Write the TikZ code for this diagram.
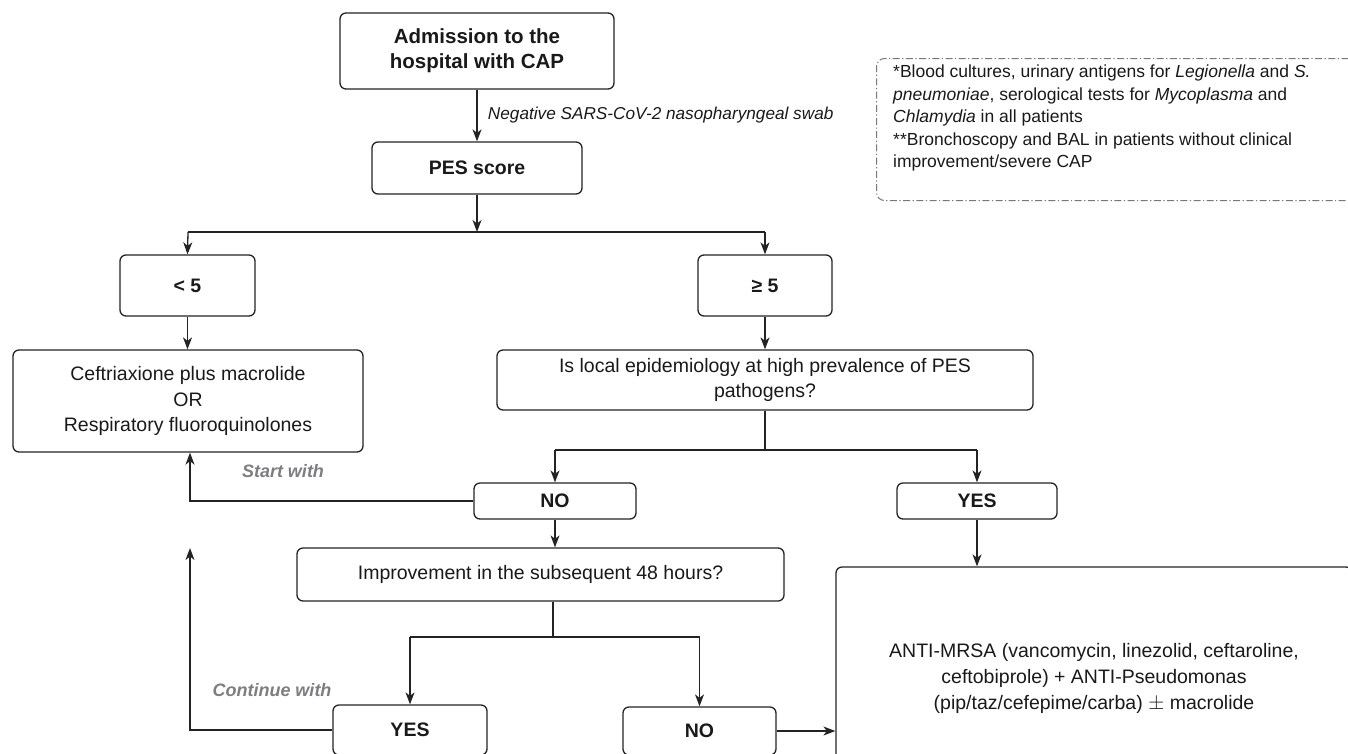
\documentclass[tikz,border=0pt]{standalone}
\usepackage{fontspec}
\setmainfont{Liberation Sans}
\usepackage{amssymb}
\usetikzlibrary{arrows.meta}
\definecolor{linec}{RGB}{35,35,35}
\definecolor{labgray}{RGB}{125,125,130}
\definecolor{notegray}{RGB}{120,120,120}
\begin{document}
\begin{tikzpicture}[x=1pt,y=-1pt,
  box/.style={draw=linec,line width=1.3pt,rounded corners=6pt,rectangle,inner sep=0pt,align=center,font=\fontsize{19.5}{25.5}\selectfont,text=black!90},
  bbox/.style={box,font=\fontsize{19.5}{25}\selectfont\bfseries},
  conn/.style={draw=linec,line width=1.3pt},
  arr/.style={conn,-{Stealth[length=12pt,width=9pt,inset=3.5pt]}},
  lab/.style={font=\fontsize{18}{20}\selectfont\bfseries\itshape,text=labgray}]
\useasboundingbox (0,0) rectangle (1348,753);
% nodes
\node[bbox,minimum width=274pt,minimum height=76pt,font=\fontsize{20.5}{25}\selectfont\bfseries] (adm) at (477,51) {Admission to the\\hospital with CAP};
\node[bbox,minimum width=210pt,minimum height=52pt] (pes) at (477,168) {PES score};
\node[bbox,minimum width=135pt,minimum height=61pt] (lt) at (187.5,285.5) {< 5};
\node[bbox,minimum width=134pt,minimum height=61pt] (ge) at (765,285.5) {≥ 5};
\node[box,minimum width=350pt,minimum height=102pt] (ceft) at (188,401) {Ceftriaxione plus macrolide\\OR\\Respiratory fluoroquinolones};
\node[box,minimum width=536pt,minimum height=60pt] (loc) at (765,380) {Is local epidemiology at high prevalence of PES\\pathogens?};
\node[bbox,minimum width=162pt,minimum height=36pt] (noa) at (555,501) {NO};
\node[bbox,minimum width=160pt,minimum height=36pt] (yesa) at (977,501) {YES};
\node[box,minimum width=487pt,minimum height=53pt] (imp) at (540.5,574.5) {Improvement in the subsequent 48 hours?};
\node[bbox,minimum width=154pt,minimum height=50pt] (yesb) at (410,730) {YES};
\node[bbox,minimum width=153pt,minimum height=48pt] (nob) at (699.5,731) {NO};
\node[box,minimum width=516pt,minimum height=223pt,font=\fontsize{19.5}{26}\selectfont] (anti) at (1094,678.5) {ANTI-MRSA (vancomycin, linezolid, ceftaroline,\\ceftobiprole) + ANTI-Pseudomonas\\(pip/taz/cefepime/carba) $\pm$ macrolide};
% note
\node[draw=notegray,line width=1pt,dash pattern=on 7pt off 2.5pt on 1.2pt off 2.5pt,rounded corners=8pt,minimum width=480pt,minimum height=142pt,anchor=north west,inner sep=0pt] (note) at (876,58) {};
\node[anchor=north west,align=left,font=\fontsize{17.5}{22.5}\selectfont,text=black!90,inner sep=0pt] (notetxt) at (893,65) {*Blood cultures, urinary antigens for \textit{Legionella} and \textit{S.}\\\textit{pneumoniae}, serological tests for \textit{Mycoplasma} and\\\textit{Chlamydia} in all patients\\**Bronchoscopy and BAL in patients without clinical\\improvement/severe CAP};
% coordinates
\coordinate (j1) at (477,232);
\coordinate (j1l) at (188,232);
\coordinate (j1r) at (765,232);
\coordinate (j2) at (765,450);
\coordinate (j2l) at (555,450);
\coordinate (j2r) at (977,450);
\coordinate (j3) at (553,637);
\coordinate (j3l) at (410,637);
\coordinate (j3r) at (699.5,637);
\coordinate (sw) at (190,501);
\coordinate (cw) at (190,730);
\coordinate (cwend) at (190,548);
% connectors
\draw[arr] (adm.south) -- (pes.north) node[midway,right=7pt,font=\fontsize{17.2}{20}\selectfont\itshape,text=black!90] {Negative SARS-CoV-2 nasopharyngeal swab};
\draw[arr] (pes.south) -- (j1);
\draw[conn] (j1l) -- (j1r);
\draw[arr] (j1l) -- (lt.north);
\draw[arr] (j1r) -- (ge.north);
\draw[arr] (lt.south) -- (lt.south |- ceft.north);
\draw[arr] (ge.south) -- (loc.north);
\draw[conn] (loc.south) -- (j2);
\draw[conn] (j2l) -- (j2r);
\draw[arr] (j2l) -- (noa.north);
\draw[arr] (j2r) -- (yesa.north);
\draw[arr] (noa.west) -- (sw) -- (sw |- ceft.south);
\node[lab] (startlab) at (283,471) {Start with};
\draw[arr] (noa.south) -- (noa.south |- imp.north);
\draw[conn] (imp.south -| j3) -- (j3);
\draw[conn] (j3l) -- (j3r);
\draw[arr] (j3l) -- (yesb.north);
\draw[arr] (j3r) -- (nob.north);
\draw[arr] (yesb.west) -- (cw) -- (cwend);
\node[lab] (contlab) at (272,690) {Continue with};
\draw[arr] (nob.east) -- (nob.east -| anti.west);
\draw[arr] (yesa.south) -- (yesa.south |- anti.north);
\end{tikzpicture}
\end{document}
